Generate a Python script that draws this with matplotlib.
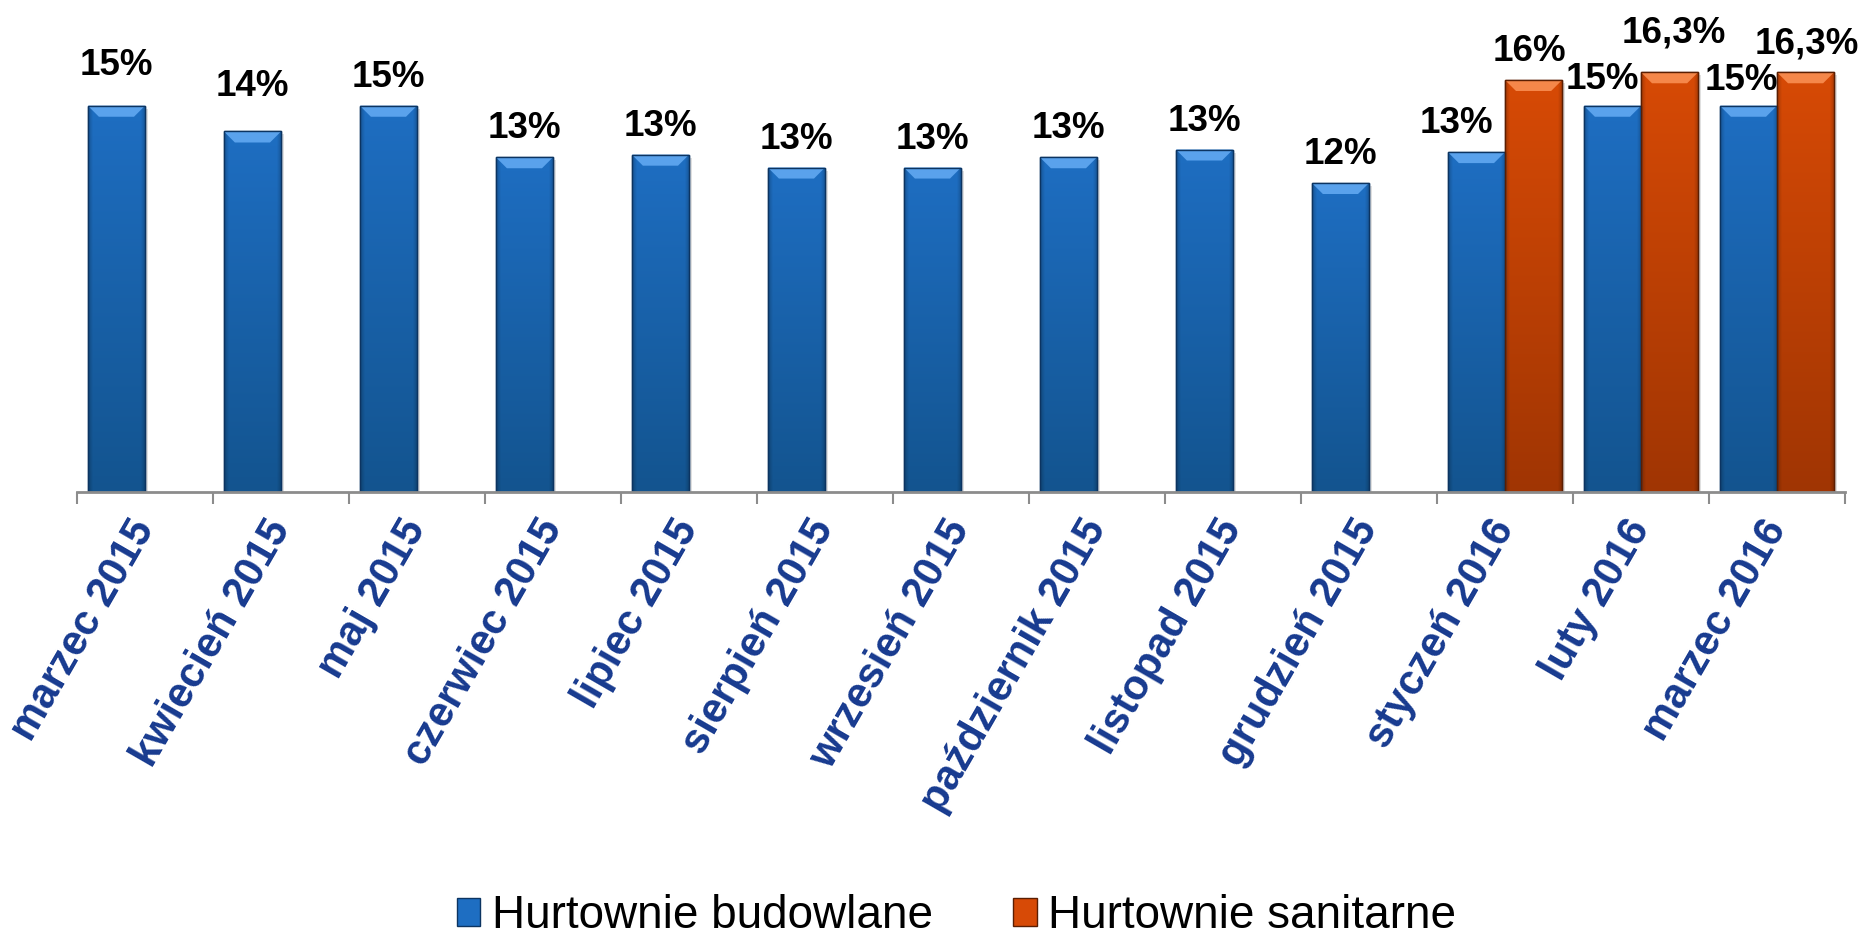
import numpy as np
import matplotlib
matplotlib.use("Agg")
import matplotlib.pyplot as plt
from matplotlib.patches import Polygon, Patch

# ---------------- data ----------------
categories = ["marzec 2015", "kwiecień 2015", "maj 2015", "czerwiec 2015", "lipiec 2015",
              "sierpień 2015", "wrzesień 2015", "październik 2015", "listopad 2015",
              "grudzień 2015", "styczeń 2016", "luty 2016", "marzec 2016"]
series_names = ["Hurtownie budowlane", "Hurtownie sanitarne"]
budowlane = [15.0, 14.0, 15.0, 13.0, 13.1, 12.6, 12.6, 13.0, 13.3, 12.0, 13.2, 15.0, 15.0]
budowlane_labels = ["15%", "14%", "15%", "13%", "13%", "13%", "13%", "13%", "13%", "12%",
                    "13%", "15%", "15%"]
sanitarne = [np.nan] * 10 + [16.0, 16.3, 16.3]
sanitarne_labels = [""] * 10 + ["16%", "16,3%", "16,3%"]

# label nudges in pixels (dx, dy) - styling only
nudge_bud = [(0, 12), (0, 17), (0, 0), (0, 0), (0, 0), (0, 0), (0, 0), (0, 0), (0, 0),
             (0, 0), (-20, 0), (-10, -2), (-7, -3)]
nudge_san = [(0, 0)] * 10 + [(-4, 0), (4, 11), (1, 0)]

# ---------------- style ----------------
W, H, DPI = 1863, 936, 100
FONT = ["Liberation Sans", "DejaVu Sans"]
plt.rcParams["font.family"] = FONT

blue_top, blue_bot, blue_bevel, blue_edge = "#1E6EC2", "#13548F", "#5AA2EC", "#0C3461"
orng_top, orng_bot, orng_bevel, orng_edge = "#D74A06", "#A03503", "#F5874A", "#5A1E02"
tick_color = "#173A8F"
axis_gray = "#8C8C8C"

fig = plt.figure(figsize=(W / DPI, H / DPI), dpi=DPI)
fig.patch.set_facecolor("white")
ax_left, ax_right = 77 / W, 1845 / W
ax_bottom = 1 - 492 / H
ax = fig.add_axes([ax_left, ax_bottom, ax_right - ax_left, 1 - ax_bottom])

n = len(categories)
x = np.arange(n)
bw = 0.42
ymax = 492 / 25.75
ax.set_xlim(-0.5, n - 0.5)
ax.set_ylim(0, ymax)

bars_b = ax.bar(x - bw / 2, np.nan_to_num(budowlane), bw, color=blue_top,
                edgecolor=blue_edge, linewidth=1.0, zorder=2)
bars_s = ax.bar(x + bw / 2, np.nan_to_num(sanitarne), bw, color=orng_top,
                edgecolor=orng_edge, linewidth=1.0, zorder=2)

# pixel size in data units
px_x = (n) / ((ax_right - ax_left) * W)
px_y = ymax / ((1 - ax_bottom) * H)


def hex2rgb(h):
    return np.array(matplotlib.colors.to_rgb(h))


def decorate(rect, top_c, bot_c, bevel_c, edge_c):
    h = rect.get_height()
    if not np.isfinite(h) or h <= 0:
        rect.set_visible(False)
        return
    x0, y0, w = rect.get_x(), rect.get_y(), rect.get_width()
    # soft shadow on the right side
    ax.add_patch(plt.Rectangle((x0 + 3 * px_x, y0), w, h - 3 * px_y, facecolor="#000000",
                               alpha=0.12, edgecolor="none", zorder=1.9))
    ny, nx = 200, 60
    t = np.linspace(0, 1, ny)[:, None, None]
    col = hex2rgb(top_c)[None, None, :] * (1 - t) + hex2rgb(bot_c)[None, None, :] * t
    u = np.linspace(0, 1, nx)[None, :, None]
    edge = np.minimum(u, 1 - u)
    fac = 0.78 + 0.22 * np.clip(edge / 0.08, 0, 1)
    img = np.clip(col * fac, 0, 1)
    im = ax.imshow(img, aspect="auto", extent=(x0, x0 + w, y0, y0 + h),
                   origin="upper", zorder=2.1, interpolation="bilinear")
    im.set_clip_path(rect)
    dx, dy = 11 * px_x, 11 * px_y
    top = y0 + h
    bev = Polygon([(x0, top), (x0 + w, top), (x0 + w - dx, top - dy), (x0 + dx, top - dy)],
                  closed=True, facecolor=bevel_c, edgecolor="none", zorder=2.2)
    ax.add_patch(bev)
    ax.add_patch(plt.Rectangle((x0, y0), w, h, facecolor="none", edgecolor=edge_c,
                               linewidth=1.0, zorder=2.3))


for r in bars_b:
    decorate(r, blue_top, blue_bot, blue_bevel, blue_edge)
for r in bars_s:
    decorate(r, orng_top, orng_bot, orng_bevel, orng_edge)

ax.set_xlim(-0.5, n - 0.5)
ax.set_ylim(0, ymax)

# value labels
gap_pt = 19 * 72 / DPI
for i, (v, lab) in enumerate(zip(budowlane, budowlane_labels)):
    if np.isfinite(v) and lab:
        dxp, dyp = nudge_bud[i]
        ax.annotate(lab, (x[i] - bw / 2, v), xytext=(dxp * 0.72, gap_pt + dyp * 0.72),
                    textcoords="offset points", ha="center", va="baseline",
                    fontsize=26.5, fontweight="bold", color="black", zorder=5,
                    annotation_clip=False)
for i, (v, lab) in enumerate(zip(sanitarne, sanitarne_labels)):
    if np.isfinite(v) and lab:
        dxp, dyp = nudge_san[i]
        ax.annotate(lab, (x[i] + bw / 2, v), xytext=(dxp * 0.72, gap_pt + dyp * 0.72),
                    textcoords="offset points", ha="center", va="baseline",
                    fontsize=26.5, fontweight="bold", color="black", zorder=5,
                    annotation_clip=False)

# axes styling
for s in ["left", "top", "right"]:
    ax.spines[s].set_visible(False)
ax.spines["bottom"].set_color(axis_gray)
ax.spines["bottom"].set_linewidth(2)
ax.spines["bottom"].set_zorder(3)
ax.set_yticks([])
ax.set_xticks(np.arange(-0.5, n, 1.0))
ax.set_xticklabels([])
ax.tick_params(axis="x", which="major", length=12 * 0.72, width=1.5, color=axis_gray,
               direction="out")
ax.set_xticks(x, minor=True)
ax.set_xticklabels(categories, minor=True, rotation=60, ha="right", va="center",
                   rotation_mode="anchor", fontsize=30, fontweight="bold", color=tick_color)
ax.tick_params(axis="x", which="minor", length=0, pad=22)
ax.set_facecolor("white")

# legend
handles = [Patch(facecolor=blue_top, edgecolor=blue_edge, label=series_names[0]),
           Patch(facecolor=orng_top, edgecolor=orng_edge, label=series_names[1])]
fig.legend(handles=handles, loc="center", bbox_to_anchor=(956.5 / W, 1 - 916 / H),
           ncol=2, frameon=False, fontsize=33, handlelength=0.52, handleheight=0.55,
           handletextpad=0.25, columnspacing=1.75, borderpad=0, borderaxespad=0)

fig.savefig("out.png", dpi=DPI, facecolor="white")
